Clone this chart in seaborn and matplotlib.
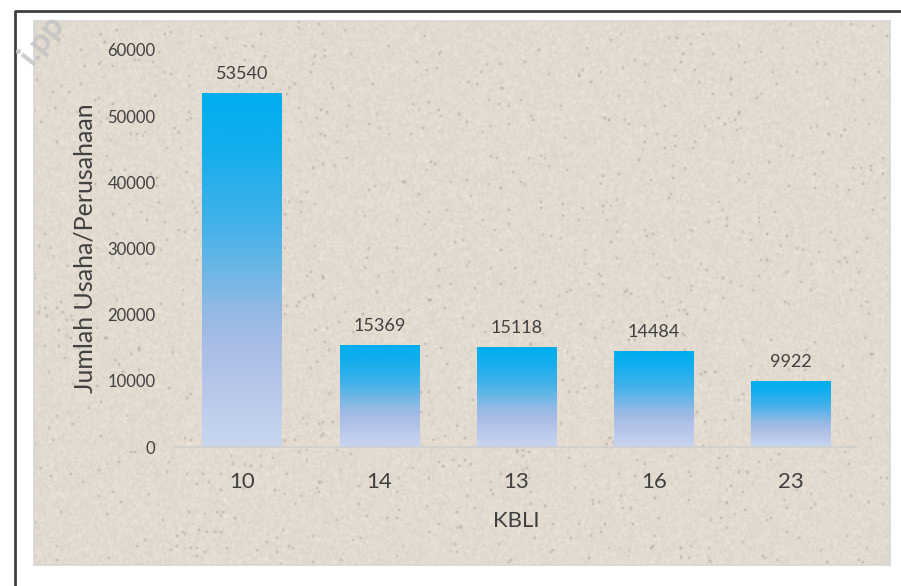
import numpy as np
import pandas as pd
import seaborn as sns
import matplotlib.pyplot as plt
from matplotlib.colors import LinearSegmentedColormap
from matplotlib.lines import Line2D

# data
kbli = ["10", "14", "13", "16", "23"]
jumlah = [53540, 15369, 15118, 14484, 9922]
y_ticks = [0, 10000, 20000, 30000, 40000, 50000, 60000]

df = pd.DataFrame({"KBLI": kbli, "Jumlah": jumlah})

sns.set_theme(style="white")
plt.rcParams["font.family"] = ["Lato", "DejaVu Sans"]
text_col = "#404040"

fig = plt.figure(figsize=(9.01, 5.86), dpi=100)
fig.patch.set_facecolor("white")

# textured panel
bg = fig.add_axes([34 / 901, 1 - 565 / 586, (890 - 34) / 901, (565 - 21) / 586], zorder=0)
rng = np.random.default_rng(3)
noise = rng.normal(0, 1, (272, 428))
tex = np.clip(0.5 + 0.05 * noise, 0, 1)
base = np.array([0.890, 0.859, 0.816])
img = base[None, None, :] + (tex[:, :, None] - 0.5) * 0.35
specks = rng.random((272, 428)) > 0.992
img[specks] -= 0.18
bg.imshow(np.clip(img, 0, 1), aspect="auto", interpolation="bilinear")
bg.set_xticks([])
bg.set_yticks([])
for s in bg.spines.values():
    s.set_color("#d6d6d6")
    s.set_linewidth(1.2)

# outer frame
fig.add_artist(Line2D([15 / 901, 15 / 901, 1.0], [0, 1 - 11 / 586, 1 - 11 / 586],
                      transform=fig.transFigure, color="#404040", lw=2))

# watermark
fig.text(42 / 901, 1 - 40 / 586, "i.pp", rotation=52, fontsize=24, fontweight="bold",
         color="#c4c4c4", ha="center", va="center", alpha=0.85, zorder=5)

ax = fig.add_axes([175 / 901, 139 / 586, (858 - 175) / 901, (536 - 139) / 586], zorder=2)
ax.set_facecolor("none")
sns.barplot(data=df, x="KBLI", y="Jumlah", order=kbli, width=0.58, ax=ax,
            color="#00AEEF", saturation=1)

cmap = LinearSegmentedColormap.from_list("grad", [
    (0.0, "#C8D6EF"), (0.28, "#AABDE6"), (0.38, "#93BAE4"),
    (0.62, "#45B2EA"), (0.85, "#12AEEE"), (1.0, "#00AEEF")])
grad = np.linspace(1, 0, 256).reshape(-1, 1)
for p in ax.patches:
    x0, w, h = p.get_x(), p.get_width(), p.get_height()
    im = ax.imshow(grad, cmap=cmap, vmin=0, vmax=1, aspect="auto",
                   extent=[x0, x0 + w, 0, h], zorder=p.get_zorder())
    im.set_clip_path(p)
    p.set_facecolor("none")
    p.set_edgecolor("none")

ax.bar_label(ax.containers[0], labels=[str(v) for v in jumlah], padding=8,
             fontsize=13, color=text_col)

ax.set_xlim(-0.49, 4.49)
ax.set_ylim(0, 60000)
ax.set_yticks(y_ticks)
ax.tick_params(axis="y", length=0, pad=14, labelsize=12, labelcolor=text_col)
ax.tick_params(axis="x", length=0, pad=18, labelsize=16, labelcolor=text_col)
ax.set_xlabel("KBLI", fontsize=16, color=text_col, labelpad=14)
ax.set_ylabel("Jumlah Usaha/Perusahaan", fontsize=18, color=text_col, labelpad=8)
for k in ["top", "right", "left"]:
    ax.spines[k].set_visible(False)
ax.spines["bottom"].set_color("#cfcfcf")
ax.spines["bottom"].set_linewidth(1.2)

fig.savefig("out.png", dpi=100)
